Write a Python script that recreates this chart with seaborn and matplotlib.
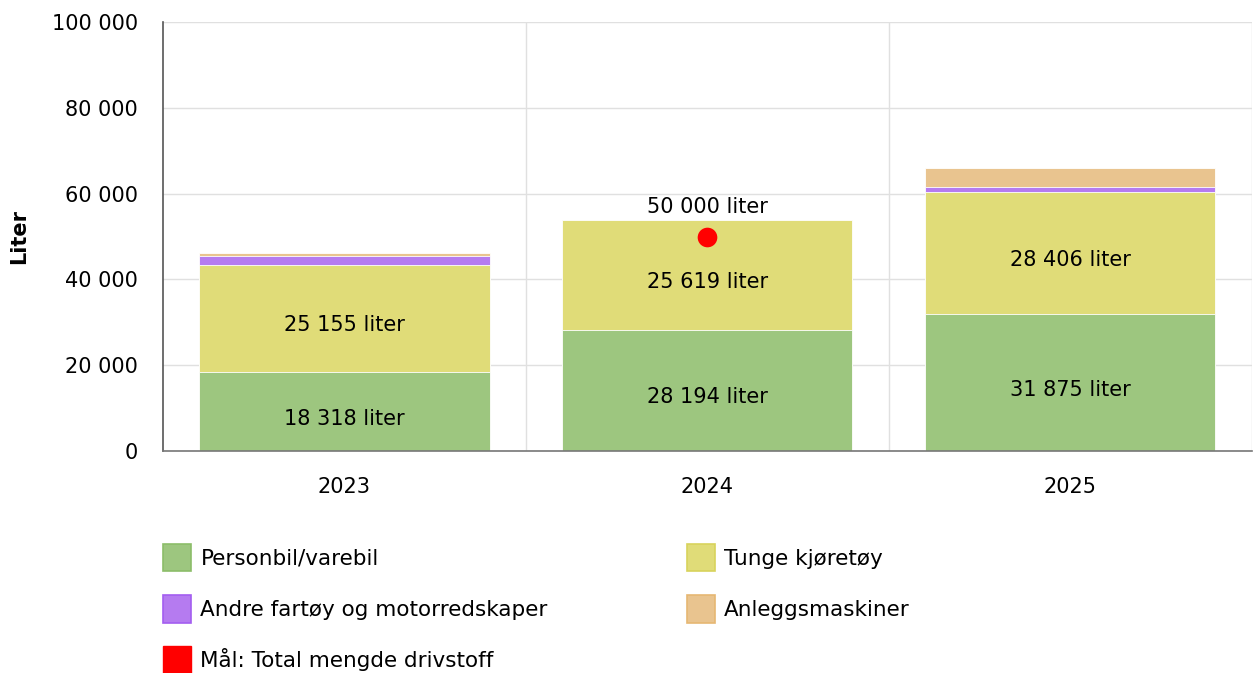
import matplotlib.pyplot as plt
import matplotlib.patches as mpatches
from matplotlib.ticker import FuncFormatter, FixedLocator
import numpy as np
import pandas as pd
import seaborn as sns

# Data (liter per year)
years = ["2023", "2024", "2025"]
personbil = [18318, 28194, 31875]
tunge = [25155, 25619, 28406]
andre = [1900, 0, 1300]
anlegg = [900, 0, 4400]
target = [np.nan, 50000, np.nan]

series_names = ["Personbil/varebil", "Tunge kjøretøy", "Andre fartøy og motorredskaper", "Anleggsmaskiner"]
series_values = [personbil, tunge, andre, anlegg]
series_colors = ["#9dc67f", "#e0dc78", "#b57bf0", "#e9c48f"]
edge_colors = ["#8cbd69", "#d8d35c", "#a35ef0", "#e6b773"]
target_name = "Mål: Total mengde drivstoff"

FS = 15

sns.set_style("white")
plt.rcParams["font.family"] = ["DejaVu Sans"]
plt.rcParams["text.color"] = "black"
plt.rcParams["axes.labelcolor"] = "black"

fig = plt.figure(figsize=(12.53, 6.73), dpi=100)
ax = fig.add_axes([0.130, 0.330, 0.869, 0.637])

df = pd.DataFrame({"year": years})
cum = np.zeros(len(years))
cums = []
for vals in series_values:
    cum = cum + np.array(vals)
    cums.append(cum.copy())

# draw cumulative totals from top layer down so each layer shows its own slice
for i in reversed(range(len(series_values))):
    df["v"] = cums[i]
    sns.barplot(data=df, x="year", y="v", color=series_colors[i], saturation=1,
                width=0.8, ax=ax, edgecolor="white", linewidth=0.6, zorder=2)

# segment labels for the two large series
for i in range(2):
    bottoms = cums[i] - np.array(series_values[i])
    for j, v in enumerate(series_values[i]):
        if v > 5000:
            ax.annotate(f"{v:,} liter".replace(",", " "), xy=(j, bottoms[j] + v / 2),
                        xytext=(0, -5), textcoords="offset points",
                        ha="center", va="center", fontsize=FS, color="black", zorder=4)

# target point
tx = [j for j, t in enumerate(target) if not np.isnan(t)]
ty = [t for t in target if not np.isnan(t)]
ax.scatter(tx, ty, s=200, color="#ff0000", zorder=5, linewidths=0)
for x, y in zip(tx, ty):
    ax.annotate(f"{y:,.0f} liter".replace(",", " "), xy=(x, y), xytext=(0, 21),
                textcoords="offset points", ha="center", va="center", fontsize=FS,
                color="black", zorder=5)

ax.set_xlim(-0.5, 2.5)
ax.set_ylim(0, 100000)
ax.set_yticks(np.arange(0, 100001, 20000))
ax.yaxis.set_major_formatter(FuncFormatter(lambda v, p: f"{v:,.0f}".replace(",", " ")))
ax.xaxis.set_minor_locator(FixedLocator([0.5, 1.5, 2.5]))
ax.grid(axis="y", which="major", color="#e0e0e0", linewidth=1, zorder=0)
ax.grid(axis="x", which="minor", color="#e0e0e0", linewidth=1, zorder=0)
ax.set_axisbelow(True)

ax.set_xlabel("")
ax.set_ylabel("Liter", fontsize=FS, fontweight="bold", labelpad=16)
ax.tick_params(axis="both", which="major", labelsize=FS, length=8, width=1,
               color="#666666", labelcolor="black", direction="out")
ax.tick_params(axis="x", which="major", pad=11)
ax.tick_params(axis="x", which="minor", length=0)
ax.tick_params(axis="y", pad=10)

for s in ["top", "right"]:
    ax.spines[s].set_visible(False)
ax.spines["left"].set_color("#555555")
ax.spines["bottom"].set_color("#777777")
ax.spines["left"].set_linewidth(1.2)
ax.spines["bottom"].set_linewidth(1.2)

handles = [mpatches.Patch(facecolor=c, edgecolor=e, linewidth=1.2, label=n)
           for n, c, e in zip(series_names, series_colors, edge_colors)]
handles.append(mpatches.Patch(facecolor="#ff0000", edgecolor="#ff0000", label=target_name))
order = [0, 2, 4, 1, 3]
fig.legend(handles=[handles[k] for k in order], loc="upper left",
           bbox_to_anchor=(0.123, 0.205), ncol=2, frameon=False, fontsize=15.5,
           labelcolor="black", handlelength=1.3, handleheight=1.6, handletextpad=0.45,
           labelspacing=1.1, columnspacing=6.45, borderaxespad=0)

fig.savefig("out.png", dpi=100)
